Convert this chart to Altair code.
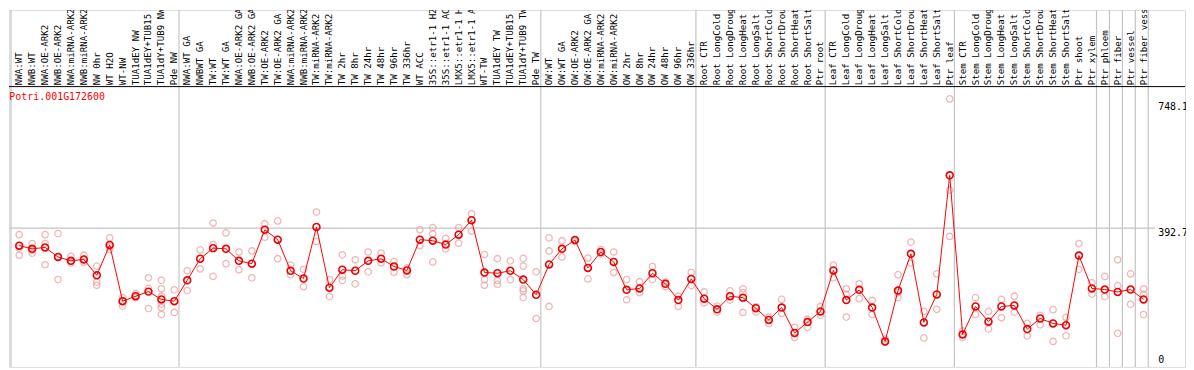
import altair as alt
import pandas as pd

title_text = "Potri.001G172600"

labels = [
    "NWA:WT", "NWB:WT", "NWA:OE-ARK2", "NWB:OE-ARK2", "NWA:miRNA-ARK2", "NWB:miRNA-ARK2",
    "NW 0hr", "WT H2O", "WT-NW", "TUA1dEY NW", "TUA1dEY+TUB15 NW", "TUA1dY+TUB9 NW", "Pde NW",
    "NWA:WT GA", "NWBWT GA", "TW:WT", "TW:WT GA", "NWA:OE-ARK2 GA", "NWB:OE-ARK2 GA",
    "TW:OE-ARK2", "TW:OE-ARK2 GA", "NWA:miRNA-ARK2", "NWB:miRNA-ARK2", "TW:miRNA-ARK2",
    "TW:miRNA-ARK2", "TW 2hr", "TW 8hr", "TW 24hr", "TW 48hr", "TW 96hr", "TW 336hr",
    "WT ACC", "35S::etr1-1 H2O", "35S::etr1-1 ACC", "LMX5::etr1-1 H2O", "LMX5::etr1-1 ACC",
    "WT-TW", "TUA1dEY TW", "TUA1dEY+TUB15 TW", "TUA1dY+TUB9 TW", "Pde TW",
    "OW:WT", "OW:WT GA", "OW:OE-ARK2", "OW:OE-ARK2 GA", "OW:miRNA-ARK2", "OW:miRNA-ARK2",
    "OW 2hr", "OW 8hr", "OW 24hr", "OW 48hr", "OW 96hr", "OW 336hr",
    "Root CTR", "Root LongCold", "Root LongDrought", "Root LongHeat", "Root LongSalt",
    "Root ShortCold", "Root ShortDrought", "Root ShortHeat", "Root ShortSalt", "Ptr root",
    "Leaf CTR", "Leaf LongCold", "Leaf LongDrought", "Leaf LongHeat", "Leaf LongSalt",
    "Leaf ShortCold", "Leaf ShortDrought", "Leaf ShortHeat", "Leaf ShortSalt", "Ptr leaf",
    "Stem CTR", "Stem LongCold", "Stem LongDrought", "Stem LongHeat", "Stem LongSalt",
    "Stem ShortCold", "Stem ShortDrought", "Stem ShortHeat", "Stem ShortSalt", "Ptr shoot",
    "Ptr xylem", "Ptr phloem", "Ptr fiber", "Ptr vessel", "Ptr fiber vessel",
]

means = [
    343, 334, 338, 311, 300, 304, 259, 345, 186, 200, 213, 191, 186,
    245, 306, 336, 334, 300, 292, 388, 360, 272, 250, 396, 224, 275, 272, 300, 306, 284,
    273, 360, 357, 346, 374, 415, 267, 265, 272, 247, 204,
    290, 334, 359, 280, 325, 297, 218, 222, 265, 235, 189, 249,
    193, 163, 200, 196, 166, 133, 168, 96, 127, 157,
    273, 189, 218, 168, 72, 216, 320, 126, 205, 542,
    92, 171, 128, 171, 174, 107, 137, 123, 118, 315,
    222, 219, 212, 219, 191,
]

replicates = [
    [374, 336, 316], [349, 322, 330], [374, 349, 289], [377, 311, 247], [313, 294, 300],
    [316, 296, 304], [285, 240, 231], [365, 332, 340], [196, 172, 186], [208, 196, 200],
    [252, 222, 165], [245, 221, 200, 177, 168, 148], [218, 154],
    [272, 216], [331, 277], [407, 346, 256], [379, 292], [325, 275], [328, 252],
    [405, 367], [413, 306], [288, 261], [276, 227], [438, 355], [247, 199],
    [317, 257, 245], [303, 235], [325, 269], [322, 294], [298, 268], [261, 280],
    [388, 343], [394, 376, 297], [363, 334], [394, 350], [433, 384], [318, 247, 231],
    [306, 244, 234], [300, 247], [307, 285, 221, 215, 196], [269, 137],
    [365, 328, 171], [357, 311], [359, 355], [308, 249], [332, 320], [325, 267],
    [247, 190], [241, 210], [284, 247], [240, 227], [200, 171], [267, 230],
    [212, 181], [172, 155], [215, 189], [221, 210, 154], [170, 155], [141, 123],
    [191, 151], [112, 83], [112, 135], [171, 146],
    [288, 252], [221, 141, 205], [235, 193], [188, 148], [79, 70], [261, 196, 210],
    [353, 294], [157, 82], [263, 163], [758, 500, 369],
    [102, 83], [196, 148], [157, 107], [191, 139], [200, 155], [123, 88], [146, 119],
    [162, 72], [140, 88], [349, 276],
    [238, 206], [256, 199], [303, 230, 95], [263, 177], [221, 148, 205],
]

# column index after which a separator is drawn
separators_after = [-1, 12, 40, 52, 62, 72, 83, 84, 85, 86, 87]
tick_values = [0, 392.7, 748.1]

W, H = 1183, 359
x_dom = [-0.7923, 90.2077]
y_dom = [0, 1009.28]
label_base = 796.5
band_line = 792.8

xs = alt.Scale(domain=x_dom, nice=False, zero=False)
ys = alt.Scale(domain=y_dom, nice=False, zero=False)

mean_df = pd.DataFrame({"i": list(range(len(labels))), "v": means, "lab": labels})
rep_rows = []
for i, reps in enumerate(replicates):
    for r in reps:
        rep_rows.append({"i": i, "v": r})
rep_df = pd.DataFrame(rep_rows)
sep_df = pd.DataFrame({"i": [k + 0.3615 for k in separators_after]})
lab_df = pd.DataFrame({"i": list(range(len(labels))), "lab": labels, "v": [label_base] * len(labels)})

font = "DejaVu Sans Mono"

seps = alt.Chart(sep_df).mark_rule(color="#c4c4c4", strokeWidth=1.2).encode(
    x=alt.X("i:Q", scale=xs, axis=None), y=alt.value(0), y2=alt.value(H)
)
grid = alt.Chart(pd.DataFrame({"v": [tick_values[1]]})).mark_rule(color="#c4c4c4", strokeWidth=1.2).encode(
    y=alt.Y("v:Q", scale=ys, axis=None), x=alt.value(0), x2=alt.value(1153)
)
band = alt.Chart(pd.DataFrame({"v": [band_line]})).mark_rule(color="black", strokeWidth=1).encode(
    y=alt.Y("v:Q", scale=ys, axis=None), x=alt.value(0), x2=alt.value(W)
)
reps_layer = alt.Chart(rep_df).mark_point(shape="circle", filled=False, color="#eb9a9a", size=42, strokeWidth=1.3).encode(
    x=alt.X("i:Q", scale=xs, axis=None), y=alt.Y("v:Q", scale=ys, axis=None)
)
line = alt.Chart(mean_df).mark_line(color="#ff0000", strokeWidth=1).encode(
    x=alt.X("i:Q", scale=xs, axis=None), y=alt.Y("v:Q", scale=ys, axis=None)
)
mean_pts = alt.Chart(mean_df).mark_point(shape="circle", filled=False, color="#ee0000", size=48, strokeWidth=1.6, opacity=1).encode(
    x=alt.X("i:Q", scale=xs, axis=None), y=alt.Y("v:Q", scale=ys, axis=None)
)
col_labels = alt.Chart(lab_df).mark_text(angle=270, align="left", baseline="middle", font=font, fontSize=9.2, color="black", clip=True).encode(
    x=alt.X("i:Q", scale=xs, axis=None), y=alt.Y("v:Q", scale=ys, axis=None), text="lab:N"
)
title = alt.Chart(pd.DataFrame({"i": [-0.77], "v": [764.7], "t": [title_text]})).mark_text(
    align="left", baseline="middle", font=font, fontSize=10, color="#ff0000"
).encode(x=alt.X("i:Q", scale=xs, axis=None), y=alt.Y("v:Q", scale=ys, axis=None), text="t:N")

tick_df = pd.DataFrame({"i": [88.13] * 3, "v": tick_values, "t": ["0", "392.7", "748.1"]})
ticks_top = alt.Chart(tick_df[tick_df["v"] > 0]).mark_text(align="left", baseline="top", font=font, fontSize=10, color="black").encode(
    x=alt.X("i:Q", scale=xs, axis=None), y=alt.Y("v:Q", scale=ys, axis=None), text="t:N"
)
ticks_zero = alt.Chart(tick_df[tick_df["v"] == 0]).mark_text(align="left", baseline="bottom", font=font, fontSize=10, color="black", dy=-2).encode(
    x=alt.X("i:Q", scale=xs, axis=None), y=alt.Y("v:Q", scale=ys, axis=None), text="t:N"
)

chart = alt.layer(
    seps, grid, reps_layer, line, mean_pts, col_labels, band, title, ticks_top, ticks_zero
).properties(
    width=W, height=H, padding={"left": 1, "top": 1, "right": 1, "bottom": 1}, autosize="none"
).configure_view(stroke="black", strokeWidth=1.2).configure(background="white")

chart.save("out.html", embed_options={"renderer": "svg", "actions": False})
